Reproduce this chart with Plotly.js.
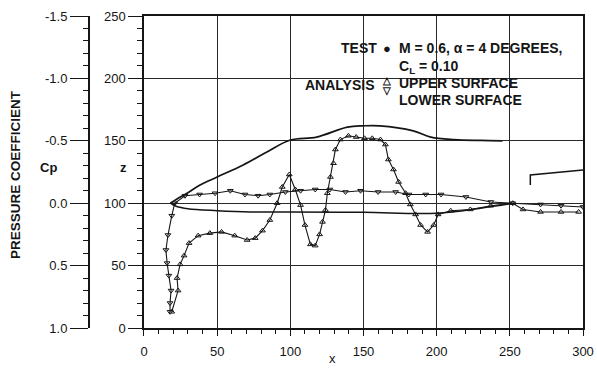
<!DOCTYPE html>
<html><head><meta charset="utf-8">
<script src="https://cdn.plot.ly/plotly-3.0.1.min.js"></script>
<style>html,body{margin:0;padding:0;background:#fff}#c{width:597px;height:376px}</style>
</head><body><div id="c"></div>
<script>
// Pressure coefficient, upper surface (analysis/test)
const upperX = [19, 23.3, 22.6, 24.7, 27.4, 30.8, 37, 45, 53, 62, 70.5, 76, 81, 86, 91, 94.5, 99.3, 103.4, 107, 110, 113.7, 117, 120, 122, 124, 125.3, 127.4, 129.5, 130.8, 134.2, 139.7, 145, 150.7, 156, 161.6, 165, 167, 170.5, 174, 178.8, 182, 185.6, 189, 193.8, 198, 201, 209.6, 223, 237, 252, 259, 271, 285, 297];
const upperCp = [0.87, 0.70, 0.60, 0.49, 0.42, 0.32, 0.26, 0.24, 0.23, 0.26, 0.295, 0.28, 0.22, 0.135, 0.0, -0.13, -0.23, -0.11, 0.015, 0.175, 0.33, 0.34, 0.25, 0.15, 0.055, -0.08, -0.21, -0.32, -0.43, -0.51, -0.54, -0.53, -0.52, -0.52, -0.51, -0.47, -0.35, -0.27, -0.17, -0.08, 0.01, 0.09, 0.175, 0.23, 0.175, 0.09, 0.06, 0.05, 0.02, 0.0, 0.05, 0.07, 0.07, 0.07];
// Pressure coefficient, lower surface
const lowerX = [17.8, 17.8, 18.5, 17, 15.8, 15, 16.4, 19, 21, 28, 38, 48.6, 59, 69, 78, 86, 96.6, 107, 117, 127, 137.7, 148, 160, 172, 181, 192.5, 203, 220, 237, 252, 271, 285, 300];
const lowerCp = [0.87, 0.80, 0.70, 0.58, 0.48, 0.375, 0.255, 0.10, 0.0, -0.06, -0.07, -0.08, -0.10, -0.07, -0.06, -0.07, -0.09, -0.10, -0.11, -0.11, -0.09, -0.10, -0.09, -0.09, -0.07, -0.07, -0.07, -0.05, -0.01, 0.0, 0.01, 0.02, 0.03];
// Body contour (z)
const contourUpX = [18, 22, 29.4, 38.3, 50, 67.8, 84, 100, 118, 139, 150, 161, 184, 196, 212, 230, 245];
const contourUpZ = [100, 103, 108, 114.6, 121, 130.6, 141, 150.6, 153, 161, 162, 162, 158, 153, 151, 150.3, 150];
const contourLoX = [18, 22, 30, 50, 72.6, 100, 150, 200, 230, 250];
const contourLoZ = [100, 97.5, 95.5, 94, 93, 93, 92.7, 92, 96, 99.5];
const tailX = [264, 264, 300];
const tailZ = [114.6, 122.6, 126.6];
// Ticks
const xTicks = [0, 50, 100, 150, 200, 250, 300];
const zTicks = [0, 50, 100, 150, 200, 250];
const cpTicks = [-1.5, -1.0, -0.5, 0.0, 0.5, 1.0];
const cpTickText = ['-1.5', '-1.0', '-0.5', '0.0', '0.5', '1.0'];

const ink = '#151515';
const F = 'Liberation Sans, Arial, sans-serif';

const traces = [
  {x: contourUpX, y: contourUpZ, xaxis: 'x', yaxis: 'y', mode: 'lines', line: {color: ink, width: 1.7, shape: 'spline'}, hoverinfo: 'skip'},
  {x: contourLoX, y: contourLoZ, xaxis: 'x', yaxis: 'y', mode: 'lines', line: {color: ink, width: 1.5, shape: 'spline'}, hoverinfo: 'skip'},
  {x: tailX, y: tailZ, xaxis: 'x', yaxis: 'y', mode: 'lines', line: {color: ink, width: 1.5}, hoverinfo: 'skip'},
  {x: lowerX, y: lowerCp, xaxis: 'x', yaxis: 'y2', mode: 'lines+markers', line: {color: ink, width: 1.1},
   marker: {symbol: 'triangle-down-open', size: 5, color: ink, line: {width: 1, color: ink}}},
  {x: upperX, y: upperCp, xaxis: 'x', yaxis: 'y2', mode: 'lines+markers', line: {color: ink, width: 1.1},
   marker: {symbol: 'triangle-up-open', size: 5, color: ink, line: {width: 1, color: ink}}}
];

function ann(text, x, y, xanchor, size, extra) {
  return Object.assign({text: text, x: x, y: y, xref: 'x', yref: 'y', xanchor: xanchor, yanchor: 'middle',
    showarrow: false, font: {family: F, size: size, color: ink, weight: 'bold'}}, extra || {});
}

const tf = {family: F, size: 13, color: ink};

const layout = {
  width: 597, height: 376,
  margin: {l: 88, r: 14, t: 16, b: 48},
  paper_bgcolor: '#fff', plot_bgcolor: '#fff',
  showlegend: false,
  font: {family: F, size: 12, color: ink},
  xaxis: {
    domain: [0.1131, 1], range: [0, 300], tickvals: xTicks,
    showgrid: true, gridcolor: '#2a2a2a', gridwidth: 1, zeroline: false,
    showline: true, linecolor: ink, linewidth: 1.6, mirror: true,
    ticks: 'outside', ticklen: 6, tickcolor: ink, ticklabelstandoff: 5,
    minor: {dtick: 10, ticks: 'outside', ticklen: 4, tickcolor: ink, showgrid: false},
    tickfont: tf
  },
  yaxis: {
    anchor: 'x', range: [0, 250], tickvals: zTicks,
    showgrid: true, gridcolor: '#2a2a2a', gridwidth: 1, zeroline: false,
    showline: true, linecolor: ink, linewidth: 1.6, mirror: true,
    ticks: 'outside', ticklen: 14, tickcolor: ink,
    minor: {dtick: 10, ticks: 'outside', ticklen: 5, tickcolor: ink, showgrid: false},
    tickfont: tf
  },
  yaxis2: {
    overlaying: 'y', anchor: 'free', position: 0, side: 'left',
    range: [1.0, -1.5], tickvals: cpTicks, ticktext: cpTickText,
    showgrid: false, zeroline: false,
    showline: true, linecolor: ink, linewidth: 1.5,
    ticks: 'outside', ticklen: 18, tickcolor: ink,
    minor: {dtick: 0.1, ticks: 'outside', ticklen: 5, tickcolor: ink, showgrid: false},
    tickfont: tf
  },
  annotations: [
    {text: 'PRESSURE COEFFICIENT', xref: 'paper', yref: 'paper', x: -0.1455, y: 0.4936, textangle: -90,
     showarrow: false, xanchor: 'center', yanchor: 'middle', font: {family: F, size: 13.5, color: ink, weight: 'bold'}},
    {text: 'Cp', xref: 'paper', yref: 'paper', x: -0.101, y: 0.516, showarrow: false, font: {family: F, size: 13, color: ink, weight: 'bold'}},
    {text: 'z', xref: 'paper', yref: 'paper', x: 0.0606, y: 0.516, showarrow: false, font: {family: F, size: 13, color: ink, weight: 'bold'}},
    {text: 'x', xref: 'paper', yref: 'paper', x: 0.4949, y: -0.128, showarrow: false, font: {family: F, size: 13, color: ink}},
    ann('TEST', 133.5, 224, 'left', 14),
    ann('●', 166, 224, 'center', 13),
    ann('M = 0.6, α = 4 DEGREES,', 172.9, 224, 'left', 14),
    ann('C<sub>L</sub> = 0.10', 172.9, 209, 'left', 14),
    ann('ANALYSIS', 159.5, 194.7, 'right', 14),
    ann('△', 166, 198, 'center', 10),
    ann('▽', 166, 190.5, 'center', 10),
    ann('UPPER SURFACE', 172.9, 196.5, 'left', 14),
    ann('LOWER SURFACE', 172.9, 182.5, 'left', 14)
  ]
};

Plotly.newPlot('c', traces, layout, {staticPlot: true, displayModeBar: false});
</script>
</body></html>
